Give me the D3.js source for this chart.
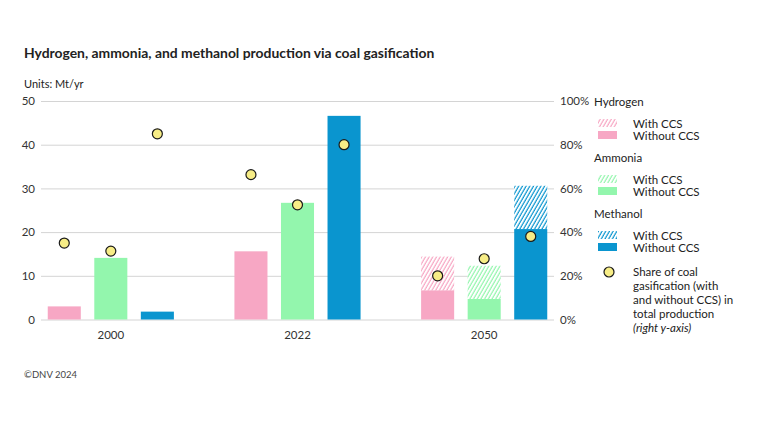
<!DOCTYPE html>
<html>
<head>
<meta charset="utf-8">
<script src="https://cdn.jsdelivr.net/npm/d3@7"></script>
<style>
    body { margin: 0; background: #fff; }
    svg text { font-family: Lato, "Noto Sans", sans-serif; fill: #222; }
    .grid line { stroke: #d4d4d4; stroke-width: 1; }
    .grid path { display: none; }
    .axis path, .axis line { display: none; }
    .axis text { font-size: 11.5px; fill: #333; }
</style>
</head>
<body>
<div id="chart"></div>
<script>
"use strict";

var years = ["2000", "2022", "2050"];
var products = ["Hydrogen", "Ammonia", "Methanol"];
var colors = ["#f7a7c4", "#93f6ad", "#0a95cf"];

// Mt/yr, per product, per year
var withoutCCS = {
    Hydrogen: [3.0, 15.6, 6.7],
    Ammonia: [14.1, 26.7, 4.7],
    Methanol: [1.8, 46.6, 20.7]
};
var withCCS = {
    Hydrogen: [0, 0, 7.7],
    Ammonia: [0, 0, 7.6],
    Methanol: [0, 0, 9.9]
};
// share of coal gasification, %
var share = {
    Hydrogen: [35, 66.3, 20],
    Ammonia: [31.3, 52.5, 27.8],
    Methanol: [85, 80, 38]
};

var leftTicks = [0, 10, 20, 30, 40, 50];
var rightTicks = [0, 20, 40, 60, 80, 100];

var width = 768,
    height = 432,
    plot = { left: 41, right: 554, top: 101, bottom: 319.5 },
    svg,
    defs,
    x0,
    x1,
    y,
    yR,
    rows = [];

svg = d3.select("#chart").append("svg")
    .attr("width", width)
    .attr("height", height);

defs = svg.append("defs");
products.forEach(function (p, i) {
    var pat = defs.append("pattern")
        .attr("id", "hatch" + i)
        .attr("patternUnits", "userSpaceOnUse")
        .attr("width", 3.2)
        .attr("height", 3.2)
        .attr("patternTransform", "rotate(30)");
    pat.append("rect").attr("width", 3.2).attr("height", 3.2).attr("fill", "#fff");
    pat.append("line")
        .attr("x1", 1).attr("y1", 0).attr("x2", 1).attr("y2", 3.2)
        .attr("stroke", colors[i]).attr("stroke-width", 1.2);
});

x0 = d3.scaleBand().domain(years).range([plot.left, plot.right])
    .paddingInner(0.252).paddingOuter(0);
x1 = d3.scaleBand().domain(products).range([0, x0.bandwidth()])
    .paddingInner(0.29).paddingOuter(0.145);
y = d3.scaleLinear().domain([0, 50]).range([plot.bottom, plot.top]);
yR = d3.scaleLinear().domain([0, 100]).range([plot.bottom, plot.top]);

// title
svg.append("text")
    .attr("x", 24).attr("y", 58)
    .style("font-size", "13.9px").style("font-weight", "bold")
    .text("Hydrogen, ammonia, and methanol production via coal gasification");

svg.append("text")
    .attr("x", 24).attr("y", 88)
    .style("font-size", "11px")
    .text("Units: Mt/yr");

// grid
svg.append("g").attr("class", "grid")
    .attr("transform", "translate(" + plot.left + ",0)")
    .call(d3.axisRight(y).tickValues(leftTicks)
        .tickSize(plot.right - plot.left).tickFormat(""));

svg.append("g").attr("class", "axis")
    .attr("transform", "translate(" + (plot.left - 3) + ",0)")
    .call(d3.axisLeft(y).tickValues(leftTicks).tickSize(0));

svg.append("g").attr("class", "axis")
    .attr("transform", "translate(" + (plot.right + 3) + ",0)")
    .call(d3.axisRight(yR).tickValues(rightTicks).tickSize(0)
        .tickFormat(function (d) { return d + "%"; }));

svg.append("g").attr("class", "axis")
    .attr("transform", "translate(0," + (plot.bottom + 8) + ")")
    .call(d3.axisBottom(x0).tickSize(0));

years.forEach(function (yr, yi) {
    products.forEach(function (p, pi) {
        rows.push({
            year: yr,
            product: p,
            idx: pi,
            without: withoutCCS[p][yi],
            withc: withCCS[p][yi],
            share: share[p][yi]
        });
    });
});

var groups = svg.selectAll(".bar")
    .data(rows).enter().append("g")
    .attr("class", "bar")
    .attr("transform", function (d) {
        return "translate(" + (x0(d.year) + x1(d.product)) + ",0)";
    });

groups.append("rect")
    .attr("x", 0)
    .attr("width", x1.bandwidth())
    .attr("y", function (d) { return y(d.without); })
    .attr("height", function (d) { return y(0) - y(d.without); })
    .attr("fill", function (d) { return colors[d.idx]; });

groups.filter(function (d) { return d.withc > 0; })
    .append("rect")
    .attr("x", 0)
    .attr("width", x1.bandwidth())
    .attr("y", function (d) { return y(d.without + d.withc); })
    .attr("height", function (d) { return y(d.without) - y(d.without + d.withc); })
    .attr("fill", function (d) { return "url(#hatch" + d.idx + ")"; });

groups.append("circle")
    .attr("cx", x1.bandwidth() / 2)
    .attr("cy", function (d) { return yR(d.share); })
    .attr("r", 5)
    .attr("fill", "#f7ed86")
    .attr("stroke", "#1a1a1a")
    .attr("stroke-width", 1.2);

// legend
var lg = svg.append("g").attr("transform", "translate(594,0)");
products.forEach(function (p, i) {
    var top = 106 + i * 56;
    lg.append("text").attr("x", 0).attr("y", top)
        .style("font-size", "11.5px").text(p);
    lg.append("rect").attr("x", 4).attr("y", top + 13)
        .attr("width", 19).attr("height", 8)
        .attr("fill", "url(#hatch" + i + ")");
    lg.append("rect").attr("x", 4).attr("y", top + 25)
        .attr("width", 19).attr("height", 8)
        .attr("fill", colors[i]);
    lg.append("text").attr("x", 39).attr("y", top + 22)
        .style("font-size", "11.5px").text("With CCS");
    lg.append("text").attr("x", 39).attr("y", top + 34)
        .style("font-size", "11.5px").text("Without CCS");
});

lg.append("circle").attr("cx", 15).attr("cy", 272).attr("r", 5)
    .attr("fill", "#f7ed86").attr("stroke", "#1a1a1a").attr("stroke-width", 1.2);

var shareLines = ["Share of coal", "gasification (with", "and without CCS) in",
    "total production"];
shareLines.forEach(function (t, i) {
    lg.append("text").attr("x", 39).attr("y", 276 + i * 14)
        .style("font-size", "11.5px").text(t);
});
lg.append("text").attr("x", 39).attr("y", 276 + 4 * 14)
    .style("font-size", "11.5px").style("font-style", "italic")
    .text("(right y-axis)");

svg.append("text")
    .attr("x", 24).attr("y", 378)
    .style("font-size", "9.5px").style("fill", "#444")
    .text("\u00a9DNV 2024");
</script>
</body>
</html>
